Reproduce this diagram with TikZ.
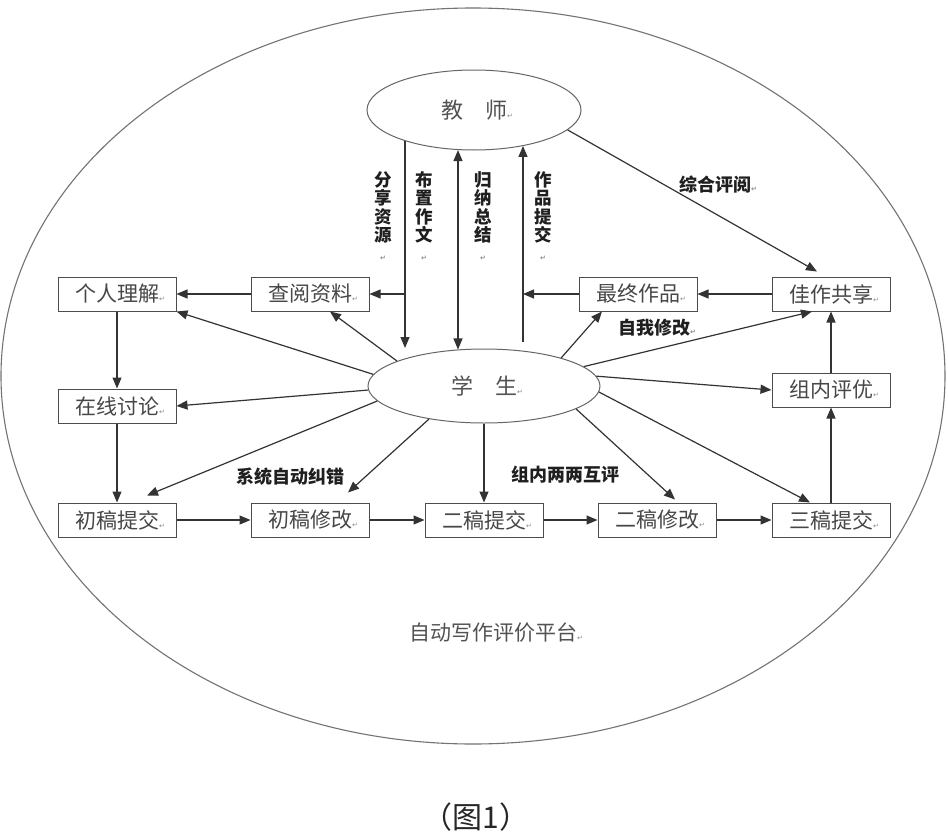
\documentclass[tikz,border=0pt]{standalone}
\usepackage{fontspec}
\setmainfont{Liberation Serif}
\newfontfamily\cjk{Noto Sans CJK SC}
\newfontfamily\dv{DejaVu Sans}
\usetikzlibrary{shapes.geometric,arrows.meta}
\newcommand{\rt}{{\dv\fontsize{7}{7}\selectfont\color{black!45}↵}}
\begin{document}
\begin{tikzpicture}[x=1pt,y=-1pt,
 box/.style={draw=black!70,line width=1pt,minimum width=118pt,minimum height=34pt,inner sep=0pt,font=\cjk\fontsize{21}{21}\selectfont,text=black!72},
 oval/.style={ellipse,draw=black!60,line width=1pt,inner sep=0pt,font=\cjk\fontsize{22}{22}\selectfont,text=black!68},
 arr/.style={draw=black!80,line width=1.2pt,-{Triangle[length=11pt,width=9pt]}},
 arrtwo/.style={draw=black!80,line width=1.2pt,{Triangle[length=11pt,width=9pt]}-{Triangle[length=11pt,width=9pt]}},
 lab/.style={font=\cjk\bfseries\fontsize{18}{18}\selectfont,text=black!88,inner sep=0pt},
 vlab/.style={align=center,inner sep=0pt,anchor=north,text=black!88,font=\cjk\bfseries\fontsize{17.5}{18.5}\selectfont},
]
\useasboundingbox (0,0) rectangle (948,835);
\fill[white] (0,0) rectangle (948,835);
% platform ellipse
\node[ellipse,draw=black!55,line width=1.1pt,minimum width=944pt,minimum height=736pt,inner sep=0pt] (plat) at (473,376) {};
% ovals
\node[oval,minimum width=214pt,minimum height=80pt] (tea) at (474,110) {教　师\rlap{\rt}};
\node[oval,minimum width=232pt,minimum height=74pt] (stu) at (484,386) {学　生\rlap{\rt}};
% boxes
\node[box] (ger) at (117,294) {个人理解\rlap{\rt}};
\node[box] (cha) at (310,294) {查阅资料\rlap{\rt}};
\node[box] (zui) at (638,294) {最终作品\rlap{\rt}};
\node[box] (jia) at (831,294) {佳作共享\rlap{\rt}};
\node[box] (zai) at (117,406) {在线讨论\rlap{\rt}};
\node[box] (zpy) at (831,390) {组内评优\rlap{\rt}};
\node[box] (c1) at (117,520) {初稿提交\rlap{\rt}};
\node[box] (c2) at (310,520) {初稿修改\rlap{\rt}};
\node[box] (e1) at (484,520) {二稿提交\rlap{\rt}};
\node[box] (e2) at (657,520) {二稿修改\rlap{\rt}};
\node[box] (s3) at (831,520) {三稿提交\rlap{\rt}};
% coordinates
\coordinate (bz) at (405,348);
\coordinate (fx) at (405,294);
\coordinate (gn) at (458,250);
\coordinate (zp) at (523,342);
\coordinate (zj) at (523,294);
% box chain
\draw[arr] (cha) -- (ger);
\draw[arr] (jia) -- (zui);
\draw[arr] (ger) -- (zai);
\draw[arr] (zai) -- (c1);
\draw[arr] (c1) -- (c2);
\draw[arr] (c2) -- (e1);
\draw[arr] (e1) -- (e2);
\draw[arr] (e2) -- (s3);
\draw[arr] (s3) -- (zpy);
\draw[arr] (zpy) -- (jia);
\draw[arr] (stu) -- (e1);
% teacher links
\draw[arr] (tea.204 -| bz) -- (bz);
\draw[arr] (fx) -- (cha);
\draw[arrtwo] (gn |- stu.126) -- (gn |- tea.248);
\draw[arr] (zp) -- (zp |- tea.324);
\draw[arr] (zui) -- (zj);
\draw[arr] (tea.-12) -- ([xshift=-14pt,yshift=5pt]jia.north);
% student links
\draw[arr] (stu.174) -- (ger.south east);
\draw[arr] (stu.164) -- ([xshift=20pt]cha.south);
\draw[arr] (stu.182) -- (zai.east);
\draw[arr] (stu.188) -- ([xshift=30pt,yshift=7pt]c1.north);
\draw[arr] (stu.211) -- ([xshift=38pt,yshift=10pt]c2.north);
\draw[arr] (stu.20) -- ([xshift=-36pt]zui.south);
\draw[arr] (stu.11) -- ([xshift=-19pt]jia.south);
\draw[arr] (stu.5) -- (zpy.west);
\draw[arr] (stu.-3) -- ([xshift=-21pt]s3.north);
\draw[arr] (stu.-14) -- ([xshift=18pt,yshift=3pt]e2.north);
% labels
\node[vlab] (l1) at (383,171) {分\\享\\资\\源\\\rt};
\node[vlab] (l2) at (424,171) {布\\置\\作\\文\\\rt};
\node[vlab] (l3) at (483,171) {归\\纳\\总\\结\\\rt};
\node[vlab] (l4) at (543,171) {作\\品\\提\\交\\\rt};
\node[lab] (l5) at (715,185) {综合评阅\rlap{\rt}};
\node[lab] (l6) at (290,477) {系统自动纠错};
\node[lab] (l7) at (565,475) {组内两两互评};
\node[lab] (l8) at (654,328) {自我修改\rlap{\rt}};
\node[font=\cjk\fontsize{21}{21}\selectfont,text=black!68,inner sep=0pt] (pt) at (493,633) {自动写作评价平台\rlap{\rt}};
\node[font=\cjk\fontsize{30}{30}\selectfont,text=black!85,inner sep=0pt] (cap) at (476,817) {（图1）};
\end{tikzpicture}
\end{document}
